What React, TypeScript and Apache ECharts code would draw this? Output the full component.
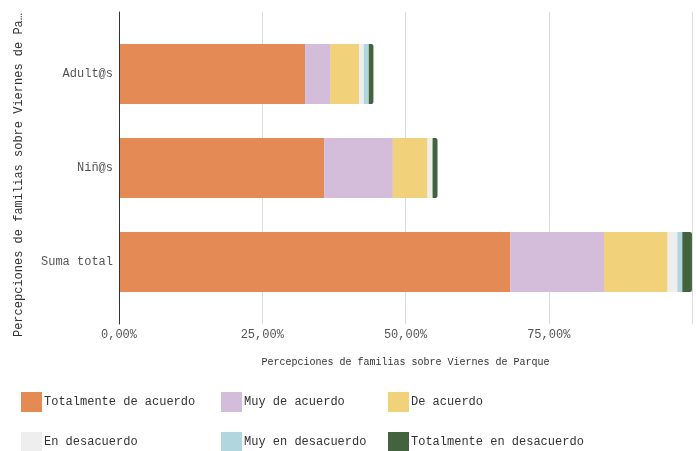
import React, { useEffect, useRef } from 'react';
import * as echarts from 'echarts';

const categories = ['Adult@s', 'Niñ@s', 'Suma total'];
const seriesNames = [
  'Totalmente de acuerdo',
  'Muy de acuerdo',
  'De acuerdo',
  'En desacuerdo',
  'Muy en desacuerdo',
  'Totalmente en desacuerdo',
];
const totalmenteDeAcuerdo = [32.47, 35.8, 68.27];
const muyDeAcuerdo = [4.37, 12.0, 16.37];
const deAcuerdo = [5.06, 6.05, 11.11];
const enDesacuerdo = [0.82, 0.87, 1.69];
const muyEnDesacuerdo = [0.87, 0, 0.87];
const totalmenteEnDesacuerdo = [0.81, 0.87, 1.68];
const seriesValues = [
  totalmenteDeAcuerdo,
  muyDeAcuerdo,
  deAcuerdo,
  enDesacuerdo,
  muyEnDesacuerdo,
  totalmenteEnDesacuerdo,
];
const colors = ['#E38A55', '#D4BCDB', '#F1D27A', '#EEEEEE', '#B2D6DE', '#43633F'];
const axisTitle = 'Percepciones de familias sobre Viernes de Parque';

const FONT = "'Courier New', 'Liberation Mono', monospace";

export default function App() {
  const ref = useRef<HTMLDivElement>(null);
  useEffect(() => {
    if (!ref.current) return;
    const chart = echarts.init(ref.current, undefined, { renderer: 'svg' });
    const gridLeft = 119;
    const gridRight = 4;
    const legendLefts = [21, 221, 388];
    const legendTops = [392, 432];
    const option: any = {
      animation: false,
      textStyle: { fontFamily: FONT },
      grid: [
        { left: gridLeft, right: gridRight, top: 12, bottom: 127 },
        { left: gridLeft, right: gridRight, top: 27, bottom: 142 },
      ],
      xAxis: [
        {
          gridIndex: 0,
          type: 'value',
          min: 0,
          max: 100,
          interval: 25,
          axisLine: { show: false },
          axisTick: { show: false },
          splitLine: { show: true, lineStyle: { color: '#dcdcdc', width: 1 } },
          axisLabel: {
            showMaxLabel: false,
            margin: 5,
            color: '#555',
            fontFamily: FONT,
            fontSize: 12,
            formatter: (v: number) => v.toFixed(2).replace('.', ',') + '%',
          },
          name: axisTitle,
          nameLocation: 'middle',
          nameGap: 33,
          nameTextStyle: { fontFamily: FONT, fontSize: 10, color: '#333' },
        },
        {
          gridIndex: 1,
          type: 'value',
          min: 0,
          max: 100,
          show: false,
        },
      ],
      yAxis: [
        {
          gridIndex: 0,
          type: 'category',
          data: [''],
          axisLine: { show: true, lineStyle: { color: '#333', width: 1 } },
          axisTick: { show: false },
          axisLabel: { show: false },
          splitLine: { show: false },
          name: axisTitle,
          nameLocation: 'middle',
          nameRotate: 90,
          nameGap: 94,
          nameTruncate: { maxWidth: 326, ellipsis: '…' },
          nameTextStyle: { fontFamily: FONT, fontSize: 12, color: '#333', padding: [0, 14, 0, 0] },
          z: 5,
        },
        {
          gridIndex: 1,
          type: 'category',
          inverse: true,
          data: categories,
          axisLine: { show: false },
          axisTick: { show: false },
          axisLabel: { margin: 6, color: '#555', fontFamily: FONT, fontSize: 12 },
        },
      ],
      legend: seriesNames.map((name, i) => ({
        orient: 'horizontal',
        left: legendLefts[i % 3],
        top: legendTops[Math.floor(i / 3)],
        padding: 0,
        itemWidth: 21,
        itemHeight: 20,
        icon: 'rect',
        data: [name],
        textStyle: { fontFamily: FONT, fontSize: 12, color: '#333', padding: [0, 0, 0, -3] },
      })),
      series: seriesNames.map((name, i) => ({
        name,
        type: 'bar',
        stack: 'total',
        xAxisIndex: 1,
        yAxisIndex: 1,
        barWidth: 60,
        data: seriesValues[i],
        itemStyle: {
          color: colors[i],
          borderRadius: i === seriesNames.length - 1 ? [0, 2, 2, 0] : 0,
        },
      })),
    };
    chart.setOption(option);
    return () => chart.dispose();
  }, []);
  return (
    <div
      ref={ref}
      style={{ position: 'fixed', left: 0, top: 0, width: 696, height: 451 }}
    />
  );
}
